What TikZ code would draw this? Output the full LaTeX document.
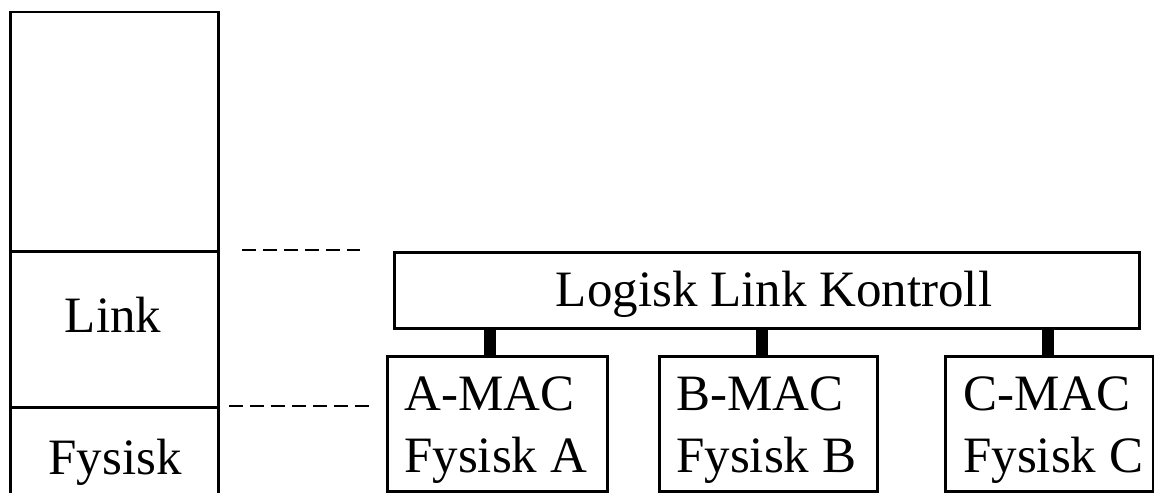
\documentclass[tikz,border=0pt]{standalone}
\usepackage{fontspec}
\setmainfont{Liberation Serif}
\begin{document}
\begin{tikzpicture}[x=0.5pt, y=-0.5pt, line width=1.25pt,
  lbl/.style={font=\fontsize{25.5}{31}\selectfont, inner sep=0pt},
  layerbox/.style={draw, anchor=north west, inner sep=0pt},
  tap/.style={line width=6pt},
  guide/.style={dash pattern=on 7pt off 3.5pt}]
\useasboundingbox (0,0) rectangle (1154,492);

% protocol stack column on the left (runs past the lower edge)
\node[layerbox, minimum width=104pt, minimum height=119.5pt] (upper) at (9,11) {};
\node[layerbox, minimum width=104pt, minimum height=78pt] (link) at (9,250) {};
\node[layerbox, minimum width=104pt, minimum height=60pt] (phys) at (9,406) {};
\node[lbl, anchor=base] (linklbl) at (113,332) {Link};
\node[lbl, anchor=base] (physlbl) at (115,474) {Fysisk};

% guide lines towards the LAN sublayers
\coordinate (g1a) at (242,250);
\coordinate (g1b) at (360,250);
\coordinate (g2a) at (229,406);
\coordinate (g2b) at (373,406);
\draw[guide] (g1a) -- (g1b);
\draw[guide] (g2a) -- (g2b);

% logical link control
\node[layerbox, minimum width=372.5pt, minimum height=38pt] (llc) at (393,251) {};
\node[lbl, anchor=base] (llclbl) at (774,306) {Logisk Link Kontroll};

% MAC / physical sublayers
\node[layerbox, minimum width=110pt, minimum height=67.5pt] (amac) at (386,355) {};
\node[layerbox, minimum width=109pt, minimum height=67.5pt] (bmac) at (658,355) {};
\node[layerbox, minimum width=104pt, minimum height=67.5pt] (cmac) at (944,355) {};

\node[lbl, anchor=base west] (a1) at (403,410) {A-MAC};
\node[lbl, anchor=base west] (a2) at (403,472) {Fysisk A};
\node[lbl, anchor=base west] (b1) at (675,410) {B-MAC};
\node[lbl, anchor=base west] (b2) at (675,472) {Fysisk B};
\node[lbl, anchor=base west] (c1) at (962,410) {C-MAC};
\node[lbl, anchor=base west] (c2) at (962,472) {Fysisk C};

% service access points between LLC and MAC
\draw[tap] (llc.south -| 490,0) -- (amac.north -| 490,0);
\draw[tap] (llc.south -| 762,0) -- (bmac.north -| 762,0);
\draw[tap] (llc.south -| 1048,0) -- (cmac.north -| 1048,0);
\end{tikzpicture}
\end{document}
